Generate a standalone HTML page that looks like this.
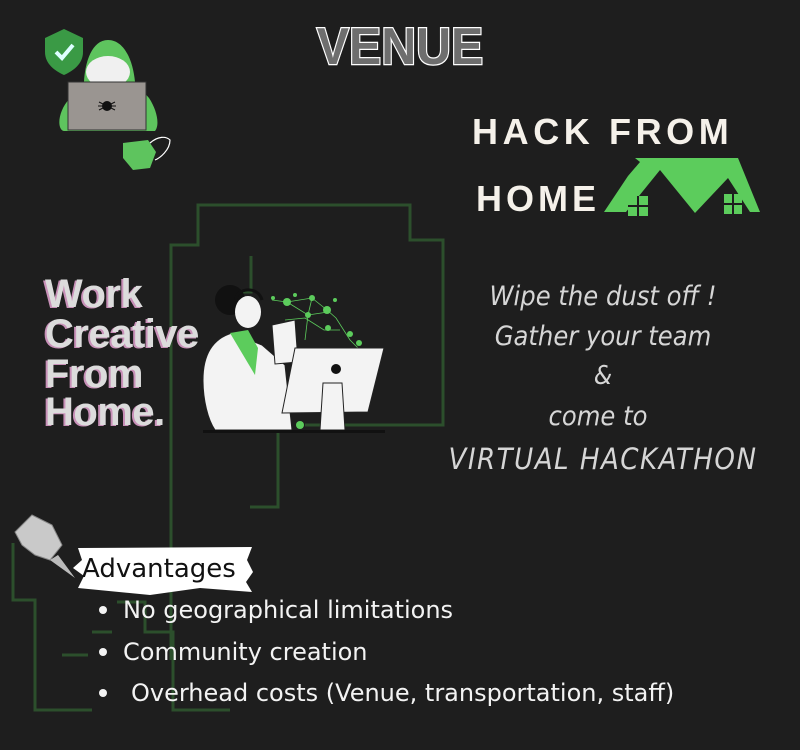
<!DOCTYPE html>
<html><head><meta charset="utf-8"><style>
html,body{margin:0;padding:0;background:#1e1e1e;}
svg{display:block}
</style></head><body>
<svg width="800" height="750" viewBox="0 0 800 750" xmlns="http://www.w3.org/2000/svg">
<rect width="800" height="750" fill="#1e1e1e"/>
<!-- green circuit lines -->
<g fill="none" stroke="#2c4f2c" stroke-width="3">
<path d="M171 660 V245 H198 V205 H410 V240 H443 V425 H305"/>
<path d="M251 256 V292 H223"/>
<path d="M278 430 V507 H250"/>
<path d="M13 543 V600 H35 V710 H92"/>
<path d="M117 602 H145 V632 H173 V710 H230"/>
<path d="M92 632 H112"/>
<path d="M62 655 H88"/>
</g>
<!-- VENUE -->
<text x="400" y="64" text-anchor="middle" font-family="Liberation Sans, sans-serif" font-weight="bold" font-size="52" fill="#6e6e6e" stroke="#fff" stroke-width="2.5" paint-order="stroke" letter-spacing="0" transform="translate(400,0) scale(0.93,1) translate(-400,0)">VENUE</text>
<!-- hacker icon -->
<path d="M45 38 L64 29 L83 38 V52 C83 64 73 71 64 75 C55 71 45 64 45 52 Z" fill="#3a9a45"/>
<path d="M56 52 L62 58 L73 45" stroke="#dff" stroke-width="4" fill="none"/>
<path d="M108 40 C92 40 85 62 84 82 L70 98 C57 112 57 130 64 131 H155 C160 125 157 110 149 98 L135 82 C133 60 124 40 108 40 Z" fill="#5ec45e"/>
<ellipse cx="108" cy="72" rx="22" ry="16" fill="#f0f0f0"/>
<rect x="68" y="82" width="78" height="48" fill="#9a9591" stroke="#333" stroke-width="1"/>
<circle cx="107" cy="106" r="5" fill="#111"/>
<path d="M99 102 L115 110 M99 110 L115 102 M98 106 H116" stroke="#111" stroke-width="1"/>
<path d="M123 143 L148 140 L156 152 L150 168 L133 170 L123 158 Z" fill="#5ec45e"/>
<path d="M150 143 C158 136 166 136 170 140 C170 150 160 158 155 160" stroke="#fff" stroke-width="1.2" fill="none"/>
<!-- HACK FROM HOME -->
<text x="472" y="144" font-family="Liberation Sans, sans-serif" font-weight="bold" font-size="36" fill="#f5f1ea" letter-spacing="4.6">HACK FROM</text>
<text x="476" y="211" font-family="Liberation Sans, sans-serif" font-weight="bold" font-size="36" fill="#f5f1ea" letter-spacing="4">HOME</text>
<polygon points="604,212 628,176 640,162 635,158 738,158 760,212 750,212 728,178 695,213 660,170 626,212" fill="#5ccc5c"/>
<rect x="628" y="196" width="20" height="20" fill="#5ccc5c"/>
<path d="M638 196 V216 M628 206 H648" stroke="#1e1e1e" stroke-width="2"/>
<rect x="724" y="194" width="18" height="20" fill="#5ccc5c"/>
<path d="M733 194 V214 M724 204 H742" stroke="#1e1e1e" stroke-width="2"/>
<!-- Work Creative -->
<g font-family="Liberation Sans, sans-serif" font-weight="bold" font-size="40" letter-spacing="-0.5">
<g fill="#c890b8" transform="translate(-2,1)">
<text x="45" y="307">Work</text><text x="45" y="347">Creative</text><text x="45" y="387">From</text><text x="45" y="425">Home.</text>
</g>
<g fill="#dcdcdc">
<text x="45" y="307">Work</text><text x="45" y="347">Creative</text><text x="45" y="387">From</text><text x="45" y="425">Home.</text>
</g>
</g>
<!-- woman illustration -->
<g stroke="#5ccc5c" stroke-width="0.8" fill="none">
<path d="M272 300 L287 302 L312 298 L327 310 L336 318 L350 340 L360 350 M287 302 L308 315 L328 312 M305 318 L324 330 L340 330 M312 298 L308 315 L305 340 M285 320 L305 318"/>
</g>
<g fill="#5ccc5c">
<circle cx="287" cy="302" r="4"/><circle cx="312" cy="298" r="3"/><circle cx="327" cy="310" r="4"/><circle cx="308" cy="315" r="3"/><circle cx="328" cy="328" r="3"/><circle cx="350" cy="334" r="3"/><circle cx="359" cy="343" r="3"/><circle cx="273" cy="298" r="2"/><circle cx="295" cy="295" r="2"/><circle cx="335" cy="300" r="2"/><circle cx="300" cy="425" r="4"/><circle cx="326" cy="425" r="3"/>
</g>
<circle cx="230" cy="300" r="15" fill="#111"/>
<ellipse cx="248" cy="312" rx="13" ry="16" fill="#f3f3f3"/>
<path d="M236 300 C236 288 258 285 262 300" stroke="#111" stroke-width="3" fill="none"/>
<path d="M203 380 C203 345 222 336 232 333 L262 345 L285 365 L292 430 H215 C208 420 203 400 203 380 Z" fill="#f3f3f3" stroke="#222" stroke-width="1"/>
<path d="M230 333 L248 330 L258 348 L255 375 Z" fill="#5ccc5c"/>
<path d="M272 325 L295 320 L298 362 L275 364 Z" fill="#f3f3f3" stroke="#222" stroke-width="1"/>
<path d="M295 348 L384 348 L368 412 L282 413 Z" fill="#f3f3f3" stroke="#222" stroke-width="1"/>
<circle cx="336" cy="369" r="5" fill="#111"/>
<path d="M323 383 H342 L345 430 H320 Z" fill="#f3f3f3" stroke="#222" stroke-width="1"/>
<rect x="203" y="430" width="182" height="3" fill="#111"/>
<!-- right text -->
<g font-family="DejaVu Sans Condensed, DejaVu Sans, sans-serif" font-style="italic" fill="#d6d6d6" text-anchor="middle">
<text x="603" y="305" font-size="27">Wipe the dust off !</text>
<text x="603" y="345" font-size="27">Gather your team</text>
<text x="603" y="384" font-size="26">&amp;</text>
<text x="598" y="425" font-size="27">come to</text>
<text x="603" y="469" font-size="29" letter-spacing="1.5">VIRTUAL HACKATHON</text>
</g>
<!-- pushpin -->
<path d="M15 532 L32 515 L52 525 L62 545 L50 560 L35 555 L22 545 Z" fill="#c9c9c9" stroke="#888" stroke-width="1"/>
<path d="M50 560 L75 578 L58 555" fill="#bbb"/>
<!-- Advantages banner -->
<path d="M78 548 L252 547 L247 560 L253 572 L246 582 L252 592 L200 588 L150 595 L78 588 L84 576 L73 568 L82 560 Z" fill="#fff"/>
<text x="82" y="577" font-family="DejaVu Sans, sans-serif" font-size="26" fill="#111">Advantages</text>
<!-- bullets -->
<g font-family="DejaVu Sans, sans-serif" font-size="24" fill="#f3f3f3">
<circle cx="103" cy="610" r="4"/><text x="123" y="618">No geographical limitations</text>
<circle cx="103" cy="652" r="4"/><text x="123" y="660">Community creation</text>
<circle cx="103" cy="693" r="4"/><text x="131" y="701">Overhead costs (Venue, transportation, staff)</text>
</g>
</svg>
</body></html>
